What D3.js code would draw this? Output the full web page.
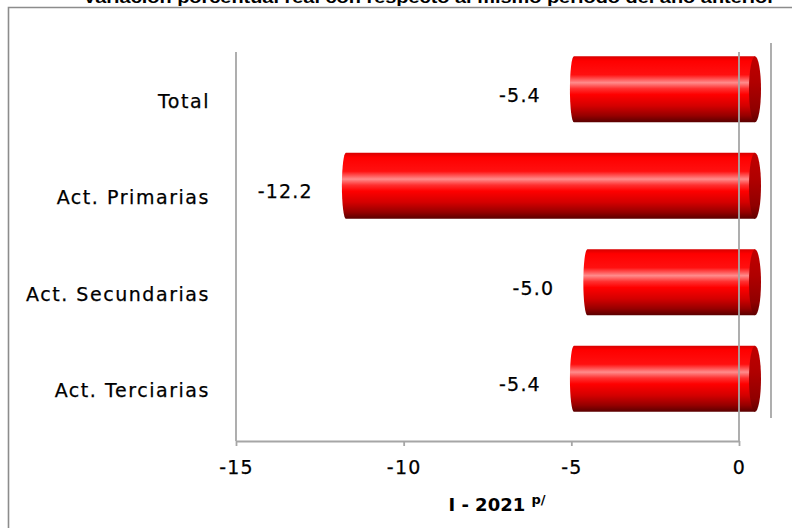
<!DOCTYPE html>
<html>
<head>
<meta charset="utf-8">
<script src="https://cdn.jsdelivr.net/npm/d3@7"></script>
<style>
  html, body { margin: 0; padding: 0; background: #fff; }
  svg { display: block; }
</style>
</head>
<body>
<svg id="chart" width="792" height="528"></svg>
<script>
const categories = ["Total", "Act. Primarias", "Act. Secundarias", "Act. Terciarias"];
const values = [-5.4, -12.2, -5.0, -5.4];
const xTicks = [-15, -10, -5, 0];
const titleText = "Variación porcentual real con respecto al mismo período del año anterior";
const axisTitle = "I - 2021";
const axisTitleSup = "p/";

const svg = d3.select("#chart");
const W = 792, H = 528;

const x = d3.scaleLinear().domain([-15, 0]).range([236, 739]);
const y = d3.scaleBand().domain(categories).range([55, 441]).paddingInner(0.316).paddingOuter(0.158);

const depthX = 12, depthY = -14;
const gridColor = "#a6a6a6";
const fontFam = "'DejaVu Sans', Verdana, sans-serif";

// defs: gradients
const defs = svg.append("defs");
const bodyGrad = defs.append("linearGradient").attr("id", "bodyGrad")
  .attr("x1", 0).attr("y1", 0).attr("x2", 0).attr("y2", 1);
[[0, "#d80000"], [0.07, "#ff0000"], [0.28, "#ff1010"], [0.40, "#ff8c8c"], [0.49, "#ff3030"],
 [0.58, "#ff0000"], [0.75, "#d40000"], [0.9, "#960000"], [1, "#5a0000"]]
  .forEach(([o, c]) => bodyGrad.append("stop").attr("offset", o).attr("stop-color", c));
const capGrad = defs.append("linearGradient").attr("id", "capGrad")
  .attr("x1", 0).attr("y1", 0).attr("x2", 0).attr("y2", 1);
[[0, "#c00000"], [0.4, "#b00000"], [0.8, "#900000"], [1, "#600000"]]
  .forEach(([o, c]) => capGrad.append("stop").attr("offset", o).attr("stop-color", c));

// Title (cut off at top, as in the reference)
svg.append("text")
  .attr("x", 429).attr("y", 3)
  .attr("text-anchor", "middle")
  .attr("font-family", "'Liberation Sans', Arial, sans-serif")
  .attr("font-weight", "bold")
  .attr("font-size", 17)
  .attr("textLength", 692)
  .attr("lengthAdjust", "spacingAndGlyphs")
  .text(titleText);

// Outer frame (left and top edges visible)
svg.append("path")
  .attr("d", `M8.5,${H + 2} L8.5,7.5 L${W + 2},7.5`)
  .attr("fill", "none").attr("stroke", "#8c8c8c").attr("stroke-width", 1.6);

// Back wall right edge
svg.append("line")
  .attr("x1", x(0) + 32).attr("x2", x(0) + 32)
  .attr("y1", 43).attr("y2", 418)
  .attr("stroke", gridColor).attr("stroke-width", 1.8);

// Left gridline at -15
svg.append("line")
  .attr("x1", x(-15)).attr("x2", x(-15))
  .attr("y1", 52).attr("y2", 441)
  .attr("stroke", gridColor).attr("stroke-width", 1.8);

// Bars (cylinders)
const bars = svg.append("g").selectAll("g").data(categories).join("g");
bars.each(function (c, i) {
  const g = d3.select(this);
  const v = values[i];
  const top = y(c) + depthY;
  const h = y.bandwidth();
  const left = x(v) + depthX;
  const right = x(0) + depthX + 4;
  const rxL = 4, rxR = 6;
  g.append("path")
    .attr("d", `M${left + rxL},${top} L${right},${top} L${right},${top + h} L${left + rxL},${top + h}
                A${rxL},${h / 2} 0 0 1 ${left + rxL},${top} Z`)
    .attr("fill", "url(#bodyGrad)");
  g.append("ellipse")
    .attr("cx", right).attr("cy", top + h / 2)
    .attr("rx", rxR).attr("ry", h / 2)
    .attr("fill", "url(#capGrad)");
});

// Zero line (drawn over bars)
svg.append("line")
  .attr("x1", x(0)).attr("x2", x(0))
  .attr("y1", 52).attr("y2", 441)
  .attr("stroke", gridColor).attr("stroke-width", 1.8);

const styleText = (sel, ls) => sel
  .attr("font-family", fontFam)
  .attr("font-size", 19)
  .attr("letter-spacing", ls)
  .attr("fill", "#000")
  .attr("stroke", "#000")
  .attr("stroke-width", 0.25);

// X axis
const xAxis = d3.axisBottom(x).tickValues(xTicks).tickSize(5).tickSizeOuter(0)
  .tickFormat(d => String(d));
const gx = svg.append("g").attr("transform", "translate(0,441)").call(xAxis);
gx.select(".domain").attr("stroke", gridColor).attr("stroke-width", 1.8);
gx.selectAll(".tick line").attr("stroke", gridColor).attr("stroke-width", 1.8);
gx.selectAll(".tick text")
  .attr("y", 26).attr("dy", "0.35em")
  .call(styleText, 1.2);

// Category labels
svg.append("g").selectAll("text").data(categories).join("text")
  .attr("x", 210)
  .attr("y", d => y(d) + y.bandwidth() / 2 - 2)
  .attr("dy", "0.35em")
  .attr("text-anchor", "end")
  .call(styleText, 1.55)
  .text(d => d);

// Value labels
svg.append("g").selectAll("text").data(categories).join("text")
  .attr("x", (d, i) => x(values[i]) - 17)
  .attr("y", d => y(d) + depthY + y.bandwidth() / 2 + 6)
  .attr("dy", "0.35em")
  .attr("text-anchor", "end")
  .call(styleText, 1.2)
  .text((d, i) => values[i].toFixed(1));

// Axis title
const at = svg.append("text")
  .attr("x", 497).attr("y", 511)
  .attr("text-anchor", "middle")
  .attr("font-family", fontFam)
  .attr("font-weight", "bold")
  .attr("font-size", 18)
  .attr("fill", "#000");
at.append("tspan").text(axisTitle + " ");
at.append("tspan").attr("font-size", 13).attr("dy", -7).text(axisTitleSup);
</script>
</body>
</html>
